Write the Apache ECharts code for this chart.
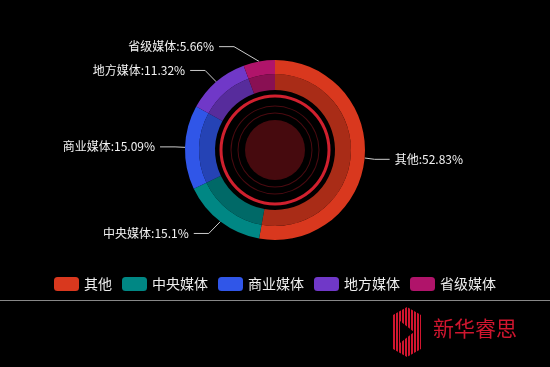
<!DOCTYPE html>
<html>
<head>
<meta charset="utf-8">
<script src="https://cdn.jsdelivr.net/npm/echarts@6/dist/echarts.min.js"></script>
<style>
html,body{margin:0;padding:0;background:#000;}
#chart{width:550px;height:367px;}
</style>
</head>
<body>
<div id="chart"></div>
<script>
const categories = ['其他', '中央媒体', '商业媒体', '地方媒体', '省级媒体'];
const values = [28, 8, 8, 6, 3];
const colors = ['#d9381e', '#008784', '#3056e8', '#7038c8', '#b0146a'];

const data = categories.map((c, i) => ({ name: c, value: values[i] }));
const FONT = '"Noto Sans CJK SC", "Microsoft YaHei", sans-serif';
const CX = 275, CY = 150, R_OUT = 90, LEN = 15, LEN2 = 15, DIST = 5;
const CENTER = [CX, CY];

function ring(r0, r1, color) {
  return {
    type: 'pie', center: CENTER, radius: [r0, r1], silent: true,
    label: { show: false }, labelLine: { show: false },
    emphasis: { disabled: true },
    itemStyle: { color: color },
    data: [{ value: 1, name: '' }]
  };
}

// classic (ECharts 4 style) label placement on a circle of radius R_OUT+LEN+LEN2
function classicLabelLayout(params) {
  const pts = params.labelLinePoints;
  if (!pts) return {};
  const edge = pts[0];
  const y = pts[2][1];
  const dir = edge[0] < CX ? -1 : 1;
  const RR = R_OUT + LEN + LEN2;
  const dy = Math.abs(y - CY);
  const dx = dy < R_OUT + LEN ? Math.sqrt(RR * RR - dy * dy) : Math.abs(pts[2][0] - CX);
  const textX = CX + dir * dx;
  const lineEnd = textX - dir * DIST;
  return {
    x: textX, y: y,
    align: dir < 0 ? 'right' : 'left',
    verticalAlign: 'middle',
    labelLinePoints: [edge, [lineEnd - dir * LEN2, y], [lineEnd, y]]
  };
}

// logo stripes
const hexPts = [[407,307],[421,315],[421,349],[407,357],[393,349],[393,315]];
const stripeEls = [];
for (let x = 395.5; x < 421; x += 3) {
  stripeEls.push({ type: 'line', shape: { x1: x, y1: 304, x2: x, y2: 360 }, style: { stroke: '#000', lineWidth: 1 } });
}

const chart = echarts.init(document.getElementById('chart'));
chart.setOption({
  backgroundColor: '#000',
  color: colors,
  legend: {
    bottom: 71, left: 'center',
    itemWidth: 25, itemHeight: 14, itemGap: 10,
    icon: 'roundRect',
    textStyle: { color: '#eee', fontSize: 14, fontFamily: FONT },
    data: categories
  },
  graphic: [
    { type: 'line', shape: { x1: 0, y1: 300.5, x2: 550, y2: 300.5 }, style: { stroke: '#888', lineWidth: 1 } },
    { type: 'polygon', shape: { points: hexPts }, style: { fill: '#d0162f' } },
    ...stripeEls,
    { type: 'polygon', shape: { points: [[400,321],[414,332],[400,343]] }, style: { fill: '#000' } },
    { type: 'text', left: 433, top: 318, style: { text: '新华睿思', fill: '#d0162f', fontSize: 21, fontFamily: FONT } }
  ],
  series: [
    {
      type: 'pie', center: CENTER, radius: [76, R_OUT],
      emphasis: { disabled: true },
      label: { formatter: '{b}:{d}%', color: '#f2f2f2', fontSize: 12, fontFamily: FONT },
      labelLine: { length: LEN, length2: LEN2, lineStyle: { color: '#ccc', width: 1 } },
      labelLayout: classicLabelLayout,
      data: data
    },
    {
      type: 'pie', center: CENTER, radius: [60, 76], silent: true,
      label: { show: false }, labelLine: { show: false },
      emphasis: { disabled: true },
      itemStyle: { opacity: 0.78 },
      data: data
    },
    ring(52.5, 55.5, '#d0202e'),
    ring(43.5, 44.5, '#4a0a10'),
    ring(36.5, 37.5, '#4a0a10'),
    ring(0, 30, '#460a0e')
  ]
});
</script>
</body>
</html>
